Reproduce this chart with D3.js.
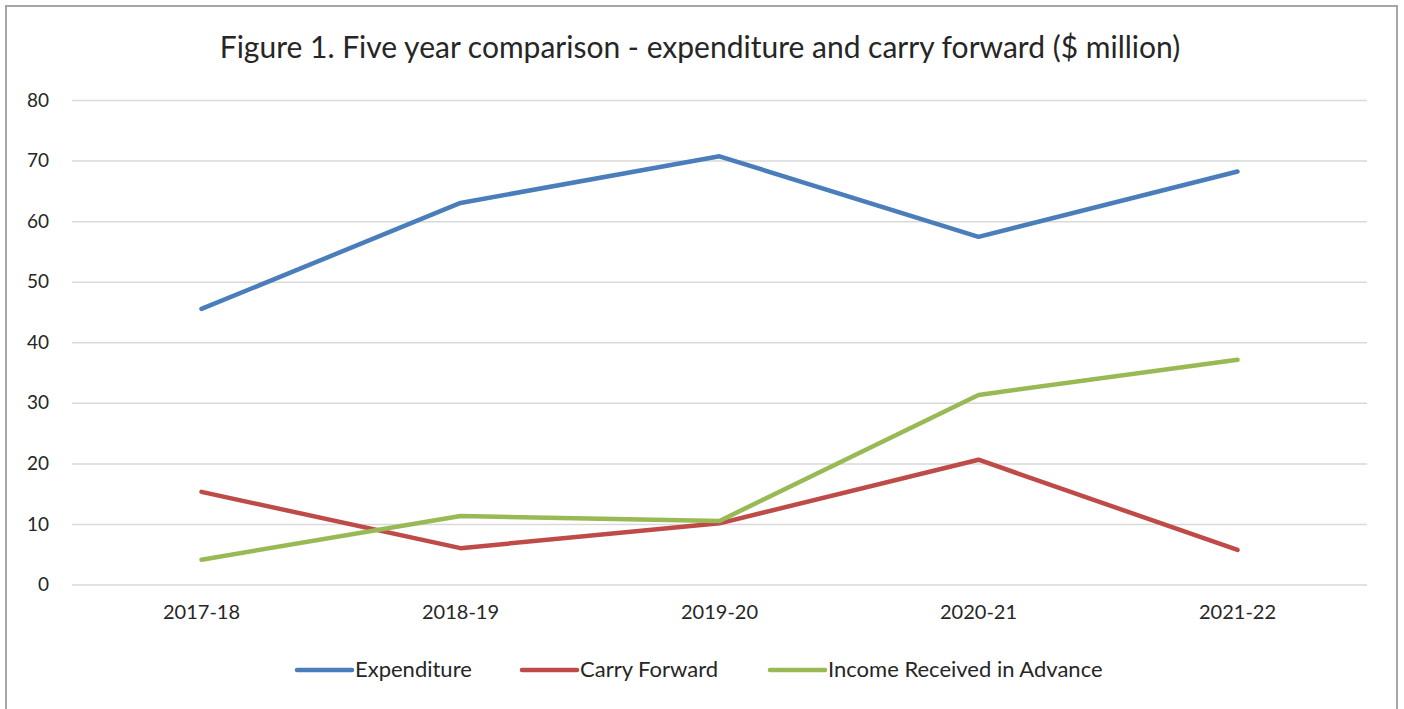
<!DOCTYPE html>
<html><head><meta charset="utf-8">
<script src="https://cdnjs.cloudflare.com/ajax/libs/d3/7.8.5/d3.min.js"></script>
<style>body{margin:0;background:#fff}svg{display:block}text{font-family:Lato,"Open Sans",sans-serif;fill:#262626}</style>
</head><body><svg id="c" width="1404" height="709"></svg>
<script>
const categories = ["2017-18","2018-19","2019-20","2020-21","2021-22"];
const expenditure = [45.5, 63.0, 70.7, 57.4, 68.2];
const carryForward = [15.3, 6.0, 10.1, 20.6, 5.7];
const incomeAdvance = [4.1, 11.3, 10.5, 31.3, 37.1];
const yTicks = [0,10,20,30,40,50,60,70,80];
const seriesNames = ["Expenditure","Carry Forward","Income Received in Advance"];
const colors = ["#4a7ebb","#be4b48","#98b954"];
const series = [expenditure, carryForward, incomeAdvance];

const svg = d3.select("#c");
svg.append("rect").attr("x",6).attr("y",6).attr("width",1391).attr("height",710)
  .attr("fill","#fff").attr("stroke","#a6a6a6").attr("stroke-width",2);

svg.append("text").attr("x",700).attr("y",58).attr("text-anchor","middle")
  .style("font-size","30px").text("Figure 1. Five year comparison - expenditure and carry forward ($ million)");

const x = d3.scaleBand().domain(categories).range([72,1367]);
const y = d3.scaleLinear().domain([0,80]).range([584.5,100]);

const gy = svg.append("g").attr("transform","translate(72,0)")
  .call(d3.axisLeft(y).tickValues(yTicks).tickSize(-1295).tickPadding(23));
gy.select(".domain").remove();
gy.selectAll(".tick line").attr("stroke","#d9d9d9").attr("stroke-width",1.5);
gy.selectAll(".tick text").style("font-size","19px").style("fill","#262626");

const gx = svg.append("g").attr("transform","translate(0,584.5)")
  .call(d3.axisBottom(x).tickSize(0).tickPadding(20));
gx.select(".domain").remove();
gx.selectAll(".tick text").style("font-size","20px").style("fill","#262626");

const line = d3.line().x((d,i)=>x(categories[i])+x.bandwidth()/2).y(d=>y(d));
series.forEach((s,k)=>{
  svg.append("path").datum(s).attr("d",line).attr("fill","none")
    .attr("stroke",colors[k]).attr("stroke-width",4.5).attr("stroke-linejoin","round").attr("stroke-linecap","round");
});

const legX = [297, 522, 770];
seriesNames.forEach((n,k)=>{
  const g = svg.append("g").attr("transform",`translate(${legX[k]},670)`);
  g.append("line").attr("x1",0).attr("x2",55).attr("y1",0).attr("y2",0)
    .attr("stroke",colors[k]).attr("stroke-width",4.5).attr("stroke-linecap","round");
  g.append("text").attr("x",58).attr("y",7).style("font-size","22px").text(n);
});
</script></body></html>
